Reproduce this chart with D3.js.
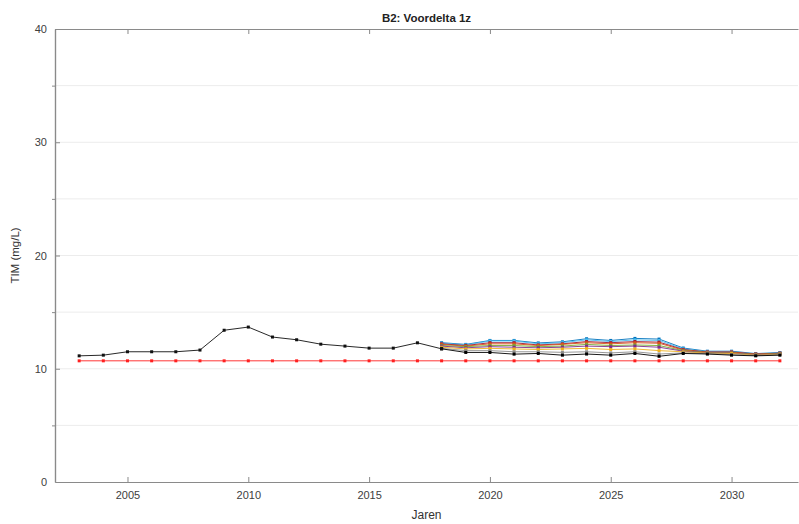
<!DOCTYPE html>
<html><head><meta charset="utf-8">
<script src="https://cdn.jsdelivr.net/npm/d3@7"></script>
<style>body{margin:0;background:#fff;}svg{display:block;font-family:"Liberation Sans",Arial,sans-serif;}</style>
</head><body>
<svg id="c" width="799" height="524"></svg>
<script>
const histYears = [2003,2004,2005,2006,2007,2008,2009,2010,2011,2012,2013,2014,2015,2016,2017,2018];
const histValues = [11.14,11.2,11.5,11.5,11.5,11.65,13.4,13.68,12.8,12.56,12.17,12.0,11.82,11.82,12.29,11.76];
const refYears = [2003,2004,2005,2006,2007,2008,2009,2010,2011,2012,2013,2014,2015,2016,2017,2018,2019,2020,2021,2022,2023,2024,2025,2026,2027,2028,2029,2030,2031,2032];
const refValues = [10.7,10.7,10.7,10.7,10.7,10.7,10.7,10.7,10.7,10.7,10.7,10.7,10.7,10.7,10.7,10.7,10.7,10.7,10.7,10.7,10.7,10.7,10.7,10.7,10.7,10.7,10.7,10.7,10.7,10.7];
const scenYears = [2018,2019,2020,2021,2022,2023,2024,2025,2026,2027,2028,2029,2030,2031,2032];
const scenNames = ["s1","s2","s3","s4","s5","s6","s7","s8","s9"];
const scenColors = ["#0072BD","#4DBEEE","#A2142F","#D95319","#77AC30","#7E2F8E","#EDB120","#8c8c8c","#000000"];
const s1 = [12.3,12.15,12.5,12.5,12.28,12.38,12.65,12.5,12.68,12.62,11.83,11.55,11.55,11.34,11.43];
const s2 = [12.25,12.1,12.45,12.45,12.2,12.3,12.55,12.4,12.55,12.5,11.75,11.5,11.5,11.3,11.4];
const s3 = [12.2,12.05,12.3,12.3,12.1,12.2,12.4,12.3,12.4,12.35,11.7,11.48,11.48,11.3,11.38];
const s4 = [12.15,12.0,12.2,12.2,12.05,12.15,12.3,12.2,12.3,12.25,11.65,11.45,11.45,11.28,11.36];
const s5 = [12.05,11.95,12.05,12.05,11.95,12.0,12.15,12.05,12.1,12.05,11.6,11.42,11.4,11.25,11.33];
const s6 = [12.0,11.85,11.95,11.9,11.85,11.9,12.0,11.95,12.0,11.9,11.55,11.4,11.38,11.22,11.3];
const s7 = [11.9,11.75,11.8,11.75,11.7,11.75,11.8,11.7,11.75,11.6,11.5,11.38,11.35,11.2,11.28];
const s8 = [11.8,11.6,11.6,11.5,11.5,11.45,11.5,11.4,11.5,11.3,11.4,11.33,11.25,11.17,11.24];
const s9 = [11.76,11.44,11.44,11.29,11.35,11.2,11.3,11.2,11.35,11.1,11.35,11.3,11.2,11.14,11.2];
const scenValues = [s1,s2,s3,s4,s5,s6,s7,s8,s9];
const xTicks = [2005,2010,2015,2020,2025,2030];
const yTicks = [0,10,20,30,40];
const yMinor = [5,15,25,35];

const svg = d3.select("#c");
const L=55, R=798, T=29, B=482;
const x = d3.scaleLinear().domain([2002,2032.75]).range([L,R]);
const y = d3.scaleLinear().domain([0,40]).range([B,T]);

// grid
const g = svg.append("g");
g.selectAll("line.grid").data(yTicks.concat(yMinor).filter(v=>v>0&&v<40)).enter().append("line")
  .attr("x1",L).attr("x2",R).attr("y1",d=>y(d)).attr("y2",d=>y(d))
  .attr("stroke","#ececec").attr("stroke-width",1);

// axes
const ax = svg.append("g").attr("transform",`translate(0,${B})`)
  .call(d3.axisBottom(x).tickValues(xTicks).tickFormat(d3.format("d")).tickSizeInner(-5).tickSizeOuter(0).tickPadding(9));
const axTop = svg.append("g").attr("transform",`translate(0,${T})`)
  .call(d3.axisTop(x).tickValues(xTicks).tickFormat("").tickSizeInner(-5).tickSizeOuter(0));
const ay = svg.append("g").attr("transform",`translate(${L},0)`)
  .call(d3.axisLeft(y).tickValues(yTicks).tickSizeInner(-5).tickSizeOuter(0).tickPadding(8));
const ayMin = svg.append("g").attr("transform",`translate(${L},0)`)
  .call(d3.axisLeft(y).tickValues(yMinor).tickFormat("").tickSizeInner(3).tickSizeOuter(0));
[ax,axTop,ay,ayMin].forEach(a=>{
  a.select(".domain").attr("stroke","#8a8a8a").attr("stroke-width",1.2);
  a.selectAll(".tick line").attr("stroke","#8a8a8a");
  a.selectAll(".tick text").attr("fill","#404040").style("font-size","11px").style("font-family","'Liberation Sans',Arial,sans-serif");
});
ay.select(".tick line").attr("stroke","none");

// lines
const line = d3.line().x(d=>x(d[0])).y(d=>y(d[1]));
function drawSeries(years, vals, color, width, marker){
  const pts = years.map((yr,i)=>[yr,vals[i]]);
  svg.append("path").datum(pts).attr("d",line).attr("fill","none").attr("stroke",color).attr("stroke-width",width).attr("opacity",0.9);
  svg.append("g").selectAll("rect").data(pts).enter().append("rect")
    .attr("x",d=>x(d[0])-marker/2).attr("y",d=>y(d[1])-marker/2)
    .attr("width",marker).attr("height",marker).attr("fill",color);
}
drawSeries(refYears, refValues, "#ff2020", 1, 3);
scenValues.forEach((v,i)=>drawSeries(scenYears, v, scenColors[i], 1, 3));
drawSeries(histYears, histValues, "#111", 1, 3);

// labels
svg.append("text").attr("x",(L+R)/2).attr("y",22).attr("text-anchor","middle")
  .style("font-size","11.5px").style("font-weight","bold").attr("fill","#222").text("B2: Voordelta 1z");
svg.append("text").attr("x",(L+R)/2).attr("y",519).attr("text-anchor","middle")
  .style("font-size","12px").attr("fill","#333").text("Jaren");
svg.append("text").attr("transform",`translate(19,${(T+B)/2}) rotate(-90)`).attr("text-anchor","middle")
  .style("font-size","11.5px").attr("fill","#333").text("TIM (mg/L)");
</script>
</body></html>
